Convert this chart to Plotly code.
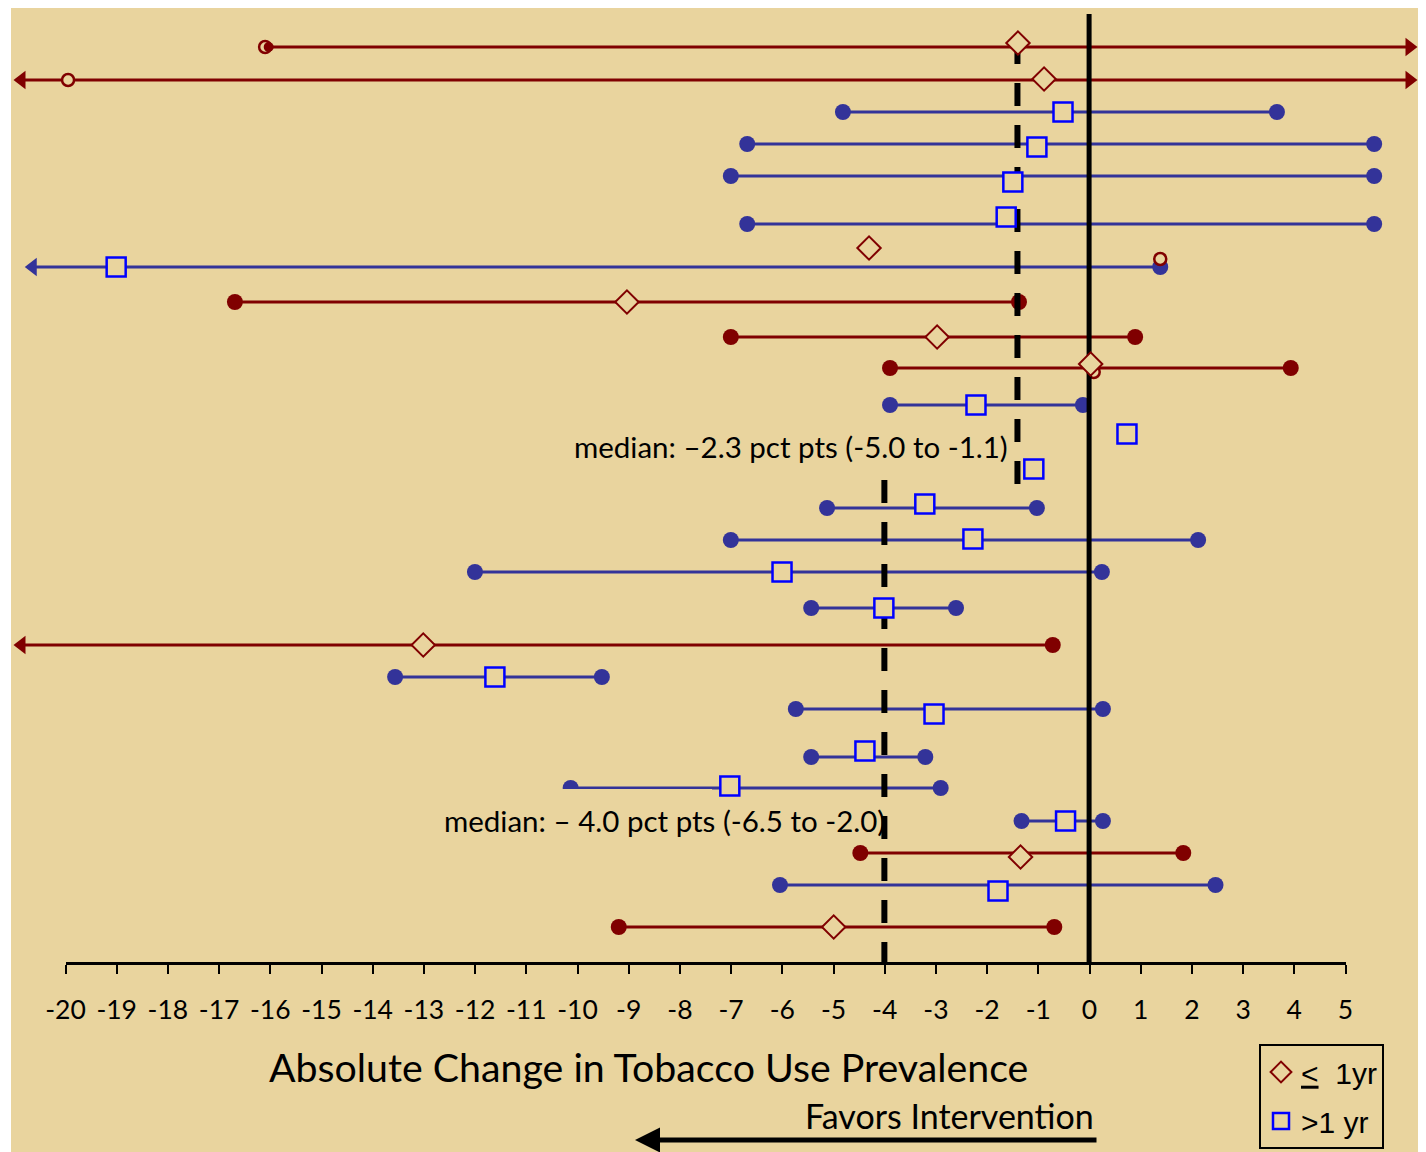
import plotly.graph_objects as go

# page is photographed with the default 8px body margin: compensate
W, H = 1426, 1152
OX, OY = 8, 8
FW, FH = W - OX, H - OY

BG = "#E9D49E"
RED = "#800000"
NAVY = "#333399"
BLUE = "#0000FF"
FONT = "Lato"

# ---------------- data ----------------
# Follow-up <= 1 yr  (row_pos = vertical slot, counted from the top)
short_row = [47, 80, 302, 337, 368, 645, 853, 927, 248]
short_est_row = [43, 79, 302, 337, 364, 645, 857, 927, 248]
short_est = [-1.39, -0.88, -9.03, -2.97, 0.03, -13.01, -1.34, -4.99, -4.30]
short_lo = [-16.03, -20.86, -16.69, -7.00, -3.89, -20.86, -4.47, -9.19, None]
short_hi = [6.26, 6.26, -1.37, 0.90, 3.94, -0.71, 1.84, -0.68, None]
short_lo_open = [False, True, False, False, False, True, False, False, False]
short_hi_open = [True, True, False, False, False, False, False, False, False]

# Follow-up > 1 yr
long_row = [112, 144, 176, 224, 267, 405, 434, 469, 508, 540, 572, 608, 677,
            709, 757, 788, 821, 885]
long_est_row = [112, 147, 182, 217, 267, 405, 434, 469, 504, 539, 572, 608, 677,
                714, 751, 786, 821, 891]
long_est = [-0.51, -1.02, -1.49, -1.62, -19.01, -2.21, 0.74, -1.08, -3.21, -2.27,
            -6.00, -4.01, -11.61, -3.03, -4.38, -7.02, -0.46, -1.78]
long_lo = [-4.81, -6.68, -7.00, -6.68, -20.64, -3.89, None, None, -5.12, -7.00,
           -12.00, -5.43, -13.56, -5.73, -5.43, -10.13, -1.32, -6.04]
long_hi = [3.67, 5.57, 5.57, 5.57, 1.39, -0.12, None, None, -1.02, 2.13,
           0.25, -2.60, -9.52, 0.27, -3.20, -2.90, 0.27, 2.47]
long_lo_open = [False, False, False, False, True] + [False] * 13
long_hi_open = [False] * 18

# extra open circles (<= 1 yr)
ring_x = [-16.10, -19.95, 1.39, 0.09]
ring_row = [47, 80, 259, 372]

# medians (dashed lines) and their spans
median_x = [-1.40, -4.00]
median_span = [(41, 484), (480, 962)]
median_text = ["median: \u20132.3 pct pts (-5.0 to -1.1)",
               "median: \u2013 4.0 pct pts (-6.5 to -2.0)"]

tick_vals = list(range(-20, 6))
x_title = "Absolute Change in Tobacco Use Prevalence"
favors = "Favors Intervention"
legend_short = "<u>&lt;</u>  1yr"
legend_long = ">1 yr"

# ---------------- helpers ----------------
def px(r):
    return (r - OX) / FW

def py(r):
    return 1 - (r - OY) / FH

def seg_xy(lo, hi, rows):
    xs, ys = [], []
    for a, b, r in zip(lo, hi, rows):
        if a is None:
            continue
        xs += [a, b, None]
        ys += [r, r, None]
    return xs, ys

def ends(lo, hi, rows, lo_open, hi_open):
    cx, cy, lx, ly, rx, ry = [], [], [], [], [], []
    for a, b, r, lo_o, hi_o in zip(lo, hi, rows, lo_open, hi_open):
        if a is None:
            continue
        if lo_o:
            lx.append(a); ly.append(r)
        else:
            cx.append(a); cy.append(r)
        if hi_o:
            rx.append(b); ry.append(r)
        else:
            cx.append(b); cy.append(r)
    return cx, cy, lx, ly, rx, ry

fig = go.Figure()

# CI lines
bx, by = seg_xy(long_lo, long_hi, long_row)
fig.add_trace(go.Scatter(x=bx, y=by, mode="lines", line=dict(color=NAVY, width=3),
                         showlegend=False, hoverinfo="skip"))
rx_, ry_ = seg_xy(short_lo, short_hi, short_row)
fig.add_trace(go.Scatter(x=rx_, y=ry_, mode="lines", line=dict(color=RED, width=3),
                         showlegend=False, hoverinfo="skip"))

# blue ends
cx, cy, lx, ly, rx, ry = ends(long_lo, long_hi, long_row, long_lo_open, long_hi_open)
fig.add_trace(go.Scatter(x=cx, y=cy, mode="markers",
                         marker=dict(symbol="circle", size=16, color=NAVY),
                         showlegend=False, hoverinfo="skip"))
fig.add_trace(go.Scatter(x=lx, y=ly, mode="markers",
                         marker=dict(symbol="triangle-left", size=16, color=NAVY),
                         showlegend=False, hoverinfo="skip"))

# red ends
cx, cy, lx, ly, rx, ry = ends(short_lo, short_hi, short_row, short_lo_open, short_hi_open)
first = (short_lo[0], short_row[0])
big = [(x, y) for x, y in zip(cx, cy) if (x, y) != first]
fig.add_trace(go.Scatter(x=[p[0] for p in big], y=[p[1] for p in big], mode="markers",
                         marker=dict(symbol="circle", size=16, color=RED),
                         showlegend=False, hoverinfo="skip"))
fig.add_trace(go.Scatter(x=lx, y=ly, mode="markers",
                         marker=dict(symbol="triangle-left", size=16, color=RED),
                         showlegend=False, hoverinfo="skip"))
fig.add_trace(go.Scatter(x=rx, y=ry, mode="markers",
                         marker=dict(symbol="triangle-right", size=16, color=RED),
                         showlegend=False, hoverinfo="skip"))

# red open rings
fig.add_trace(go.Scatter(x=ring_x, y=ring_row, mode="markers",
                         marker=dict(symbol="circle", size=12, color=BG,
                                     line=dict(color=RED, width=2.5)),
                         showlegend=False, hoverinfo="skip"))
# half-hidden end dot of the first row
fig.add_trace(go.Scatter(x=[first[0]], y=[first[1]], mode="markers",
                         marker=dict(symbol="circle", size=10, color=RED),
                         showlegend=False, hoverinfo="skip"))

# null line
fig.add_trace(go.Scatter(x=[0, 0], y=[14, 962], mode="lines",
                         line=dict(color="black", width=5),
                         showlegend=False, hoverinfo="skip"))
# median dashed lines
for m, (y0, y1) in zip(median_x, median_span):
    fig.add_trace(go.Scatter(x=[m, m], y=[y0, y1], mode="lines",
                             line=dict(color="black", width=6, dash="23px,19px"),
                             showlegend=False, hoverinfo="skip"))

# point estimates
fig.add_trace(go.Scatter(x=short_est, y=short_est_row, mode="markers", name=legend_short,
                         marker=dict(symbol="diamond", size=18, color=BG,
                                     line=dict(color=RED, width=2)),
                         legendgroup="a", hoverinfo="x"))
fig.add_trace(go.Scatter(x=long_est, y=long_est_row, mode="markers", name=legend_long,
                         marker=dict(symbol="square", size=19, color=BG,
                                     line=dict(color=BLUE, width=2.5)),
                         legendgroup="b", hoverinfo="x"))

# axis-only subplot for the scale
fig.add_trace(go.Scatter(x=[None], y=[None], xaxis="x2", yaxis="y2",
                         showlegend=False, hoverinfo="skip"))

ax_y = py(962)
fig.update_layout(
    width=FW, height=FH, autosize=False,
    margin=dict(l=0, r=0, t=0, b=0, pad=0, autoexpand=False),
    paper_bgcolor="white", plot_bgcolor="rgba(0,0,0,0)",
    font=dict(family=FONT, color="black"),
    xaxis=dict(domain=[0, 1], range=[(OX - 1089.1) / 51.18, (W - 1089.1) / 51.18],
               visible=False, fixedrange=True, automargin=False),
    yaxis=dict(domain=[0, 1], range=[H, OY], visible=False, fixedrange=True,
               automargin=False),
    xaxis2=dict(domain=[px(65.5), px(1345.5)], range=[-20, 5], anchor="y2",
                tickvals=tick_vals, ticktext=[str(v) for v in tick_vals],
                showline=True, linecolor="black", linewidth=2.5,
                ticks="outside", ticklen=9, tickwidth=2, tickcolor="black",
                showgrid=False, zeroline=False, automargin=False,
                tickfont=dict(family=FONT, size=26.5, color="black"),
                ticklabelstandoff=13),
    yaxis2=dict(domain=[ax_y, ax_y + 0.01], range=[0, 1], visible=False,
                automargin=False),
    showlegend=True,
    legend=dict(x=px(1259), y=py(1044), xanchor="left", yanchor="top",
                bgcolor=BG, bordercolor="black", borderwidth=2,
                font=dict(family="Liberation Sans", size=30, color="black"),
                tracegroupgap=7, traceorder="grouped", itemsizing="trace"),
    shapes=[
        dict(type="rect", xref="paper", yref="paper", x0=px(11), x1=px(1419),
             y0=0, y1=1, fillcolor=BG, line=dict(width=0), layer="below"),
        dict(type="rect", xref="paper", yref="paper", x0=px(1419), x1=1,
             y0=py(487), y1=py(482), fillcolor="black", line=dict(width=0)),
        dict(type="rect", xref="paper", yref="paper", x0=px(168), x1=px(712),
             y0=py(847), y1=py(789), fillcolor=BG, line=dict(width=0),
             layer="above"),
    ],
    annotations=[
        dict(text=median_text[0], xref="paper", yref="paper", x=px(790.5), y=py(446),
             xanchor="center", yanchor="middle", showarrow=False,
             font=dict(family=FONT, size=29.5, color="black")),
        dict(text=median_text[1], xref="paper", yref="paper", x=px(664), y=py(820),
             xanchor="center", yanchor="middle", showarrow=False,
             font=dict(family=FONT, size=29.5, color="black")),
        dict(text=x_title, xref="paper", yref="paper", x=px(648.5), y=py(1066),
             xanchor="center", yanchor="middle", showarrow=False,
             font=dict(family=FONT, size=39.3, color="black")),
        dict(text=favors, xref="paper", yref="paper", x=px(949.5), y=py(1115),
             xanchor="center", yanchor="middle", showarrow=False,
             font=dict(family=FONT, size=34, color="black")),
        dict(text="", xref="paper", yref="paper", x=px(635), y=py(1140),
             ax=463, ay=0, showarrow=True, arrowhead=2, arrowsize=1,
             arrowwidth=5, arrowcolor="black"),
    ],
)

fig.write_html("out.html")
